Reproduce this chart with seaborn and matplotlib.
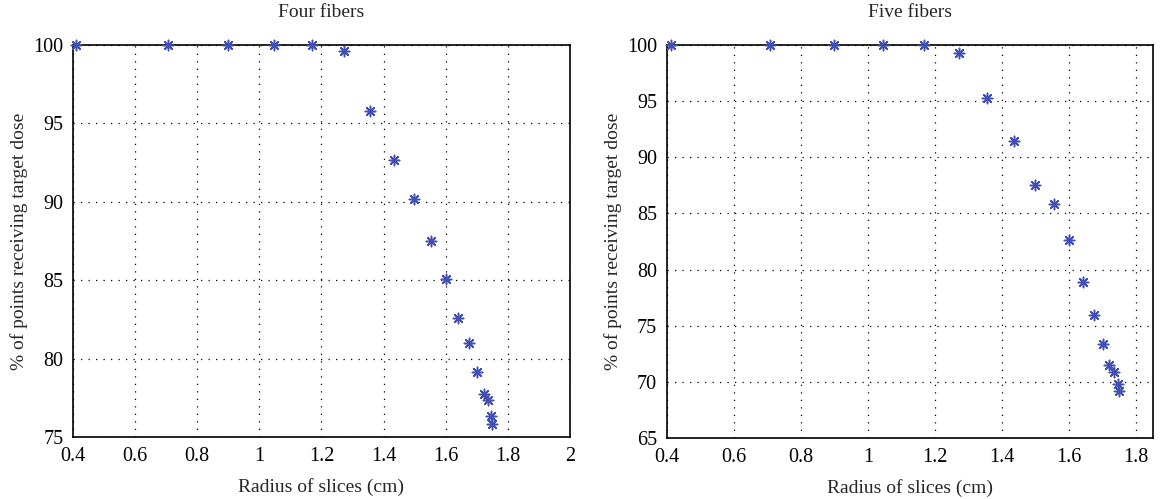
import matplotlib
matplotlib.use("Agg")
import matplotlib.pyplot as plt
import seaborn as sns
import pandas as pd

# Four fibers
radius_four = [0.41, 0.706, 0.899, 1.048, 1.169, 1.271, 1.357, 1.434, 1.497, 1.553,
               1.601, 1.641, 1.674, 1.700, 1.722, 1.737, 1.746, 1.748]
pct_four = [100.0, 100.0, 100.0, 100.0, 100.0, 99.62, 95.79, 92.67, 90.21, 87.5,
            85.1, 82.6, 80.98, 79.17, 77.77, 77.35, 76.31, 75.85]

# Five fibers
radius_five = [0.411, 0.706, 0.899, 1.046, 1.167, 1.270, 1.356, 1.434, 1.497, 1.554,
               1.600, 1.642, 1.675, 1.701, 1.720, 1.735, 1.745, 1.748]
pct_five = [100.0, 100.0, 100.0, 100.0, 100.0, 99.28, 95.27, 91.47, 87.57, 85.84,
            82.67, 78.87, 76.0, 73.35, 71.54, 70.89, 69.79, 69.17]

x_ticks_four = [0.4, 0.6, 0.8, 1.0, 1.2, 1.4, 1.6, 1.8, 2.0]
y_ticks_four = [75, 80, 85, 90, 95, 100]
x_ticks_five = [0.4, 0.6, 0.8, 1.0, 1.2, 1.4, 1.6, 1.8]
y_ticks_five = [65, 70, 75, 80, 85, 90, 95, 100]

sns.set_style("white")
plt.rcParams["font.family"] = ["Liberation Serif", "DejaVu Serif"]
plt.rcParams["font.size"] = 14

COLOR = "#4350b3"


def fmt(v):
    return f"{v:g}"


def draw(ax, x, y, title, xticks, yticks, xlim, ylim):
    df = pd.DataFrame({"r": x, "p": y})
    sns.scatterplot(data=df, x="r", y="p", ax=ax, marker=(8, 2, 0), s=55,
                    color=COLOR, edgecolor=COLOR, linewidth=1.1, clip_on=False,
                    zorder=5)
    ax.set_xlim(*xlim)
    ax.set_ylim(*ylim)
    ax.set_xticks(xticks)
    ax.set_xticklabels([fmt(v) for v in xticks])
    ax.set_yticks(yticks)
    ax.set_yticklabels([fmt(v) for v in yticks])
    ax.grid(True, color="black", linestyle=(0, (1, 5)), linewidth=0.9)
    for sp in ax.spines.values():
        sp.set_visible(True)
        sp.set_color("black")
        sp.set_linewidth(1.2)
    ax.tick_params(direction="out", length=4, width=1, colors="black",
                   labelsize=14.5, pad=3)
    ax.set_title(title, fontsize=14, pad=20)
    ax.set_xlabel("Radius of slices (cm)", fontsize=14, labelpad=9)
    ax.set_ylabel("% of points receiving target dose", fontsize=14, labelpad=4)


fig = plt.figure(figsize=(11.64, 4.99), dpi=100)
ax1 = fig.add_axes([0.0627, 0.1242, 0.427, 0.7856])
ax2 = fig.add_axes([0.573, 0.1222, 0.4175, 0.7876])

draw(ax1, radius_four, pct_four, "Four fibers", x_ticks_four, y_ticks_four,
     (0.4, 2.0), (75, 100))
draw(ax2, radius_five, pct_five, "Five fibers", x_ticks_five, y_ticks_five,
     (0.4, 1.85), (65, 100))

fig.savefig("out.png", dpi=100)
plt.close(fig)
